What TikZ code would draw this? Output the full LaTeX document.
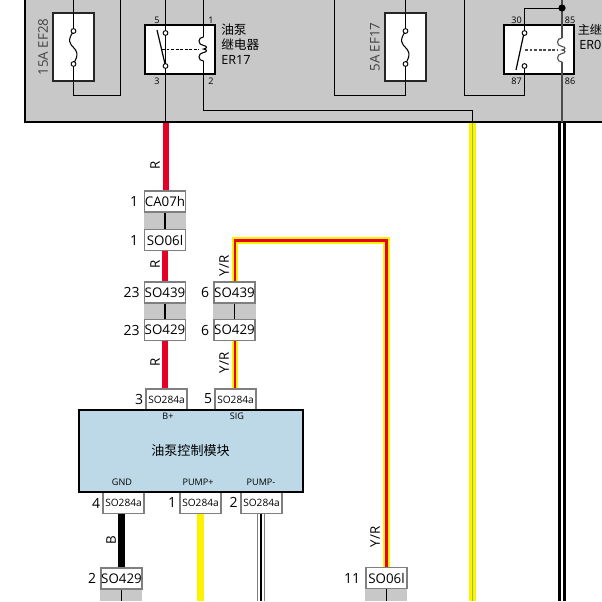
\documentclass[tikz,border=0pt]{standalone}
\usepackage{fontspec}
\setmainfont{Open Sans}
\newfontfamily\cjk{Noto Sans CJK SC}
\usetikzlibrary{backgrounds}
\definecolor{panelgray}{HTML}{C8C8C8}
\definecolor{modblue}{HTML}{BDD9E8}
\definecolor{boxedge}{HTML}{7F7F7F}
\definecolor{wirered}{HTML}{E60026}
\definecolor{wireyellow}{HTML}{FFF200}
\definecolor{wiregreen}{HTML}{8CC63F}
\tikzset{
  thin wire/.style={line width=.8pt,black},
  conn/.style={draw=boxedge,line width=1.1pt,fill=white,minimum width=30.5pt,minimum height=15.5pt,inner sep=0pt,font=\fontsize{10}{10}\selectfont},
  connsm/.style={conn,font=\fontsize{7.6}{8}\selectfont},
  num/.style={anchor=east,inner sep=0pt,font=\fontsize{10.5}{10}\selectfont},
  pin/.style={inner sep=0pt,font=\fontsize{6.8}{7}\selectfont},
  modpin/.style={inner sep=0pt,font=\fontsize{6.8}{7}\selectfont},
  wirename/.style={rotate=90,inner sep=0pt,font=\fontsize{10}{10}\selectfont},
  fusename/.style={rotate=90,inner sep=0pt,text=black!75,font=\fontsize{10}{10}\selectfont},
  relayname/.style={anchor=west,inner sep=0pt,font=\fontsize{9.5}{10}\selectfont},
  link/.style={fill=panelgray},
  wire R/.style={wirered,line width=4.5pt},
  wire B/.style={black,line width=5pt},
  wire Y/.style={wireyellow,line width=5pt},
  wire YR/.style={draw=wireyellow,double=wirered,line width=1.8pt,double distance=1.6pt},
  wire YG/.style={draw=wireyellow,double=wiregreen,line width=2pt,double distance=1pt},
  wire BW/.style={draw=black,double=white,line width=2.1pt,double distance=1.1pt},
  wire WE/.style={boxedge,line width=5.6pt},
  wire WI/.style={draw=white,double=black,line width=1.5pt,double distance=1.6pt},
  pinball/.style={circle,draw=black,fill=white,line width=.7pt,minimum size=3.6pt,inner sep=0pt},
  relaycoil/.pic={
    \draw[line width=.8pt] (0,12) .. controls (-6,12) and (-6,4) .. (0,3.5)
      .. controls (4,3) and (4,.5) .. (0,0) .. controls (4,-.5) and (4,-3) .. (0,-3.5)
      .. controls (-6,-4) and (-6,-12) .. (0,-12);
  },
  fuselink/.pic={
    \draw[line width=.8pt] (0,16) .. controls (-7,7) and (-3,3) .. (0,0)
      .. controls (3,-3) and (6,-7) .. (0,-16);
  },
}
\begin{document}
\begin{tikzpicture}[x=.75pt,y=.75pt]
  \useasboundingbox (0,0) rectangle (602,-601);

  % fuse box panel
  \draw[fill=panelgray,line width=1.5pt] (25,6) rectangle (612,-122);

  \draw[thin wire] (120.5,6) -- (120.5,-95.5) -- (73.5,-95.5) -- (73.5,-81);
  \draw[thin wire] (334.5,6) -- (334.5,-95.5) -- (405.5,-95.5) -- (405.5,-81);
  \draw[thin wire] (464.5,6) -- (464.5,-95.5) -- (524.5,-95.5) -- (524.5,-74);
  \draw[thin wire] (73.5,6) -- (73.5,-13) (405.5,6) -- (405.5,-13);

  % fuses
  \draw[line width=1.5pt,draw=black!85,fill=white] (53,-13) rectangle (94,-81);
  \draw[line width=1.5pt,draw=black!85,fill=white] (384.5,-13) rectangle (425.5,-81);
  \draw[thin wire] (73.5,-13) -- (73.5,-31) (73.5,-64) -- (73.5,-81);
  \draw[thin wire] (405.5,-13) -- (405.5,-31) (405.5,-64) -- (405.5,-81);
  \pic at (73.5,-47.5) {fuselink};
  \pic at (405.5,-47.5) {fuselink};
  \node[pinball] (fuseAt) at (73.5,-31) {};
  \node[pinball] (fuseAb) at (73.5,-64) {};
  \node[pinball] (fuseBt) at (405.5,-31) {};
  \node[pinball] (fuseBb) at (405.5,-64) {};
  \node[fusename] (fuseAname) at (43,-47) {15A EF28};
  \node[fusename] (fuseBname) at (375,-47) {5A EF17};

  % relay ER17
  \draw[line width=1.5pt,fill=white] (144.5,-25) rectangle (215,-74);
  \draw[thin wire] (165.5,6) -- (165.5,-122);
  \draw[thin wire] (203.5,6) -- (203.5,-37) (203.5,-61) -- (203.5,-110.5) -- (472.5,-110.5) -- (472.5,-122);
  \pic at (203.5,-49) {relaycoil};
  \draw[line width=.9pt] (157,-30) -- (165.5,-66);
  \draw[line width=.8pt,dashed,dash pattern=on 2.2pt off 1.2pt] (162,-49.5) -- (199,-49.5);
  \node[pinball] (relayAt) at (165.5,-33) {};
  \node[pinball] (relayAb) at (165.5,-66) {};
  \node[pin] (pinAa) at (157,-20) {5};
  \node[pin] (pinAb) at (211,-20) {1};
  \node[pin] (pinAc) at (157,-81.5) {3};
  \node[pin] (pinAd) at (211,-81.5) {2};
  \node[relayname] (nameAa) at (221,-29.5) {\cjk 油泵};
  \node[relayname] (nameAb) at (221,-44.5) {\cjk 继电器};
  \node[relayname] (nameAc) at (221,-59.5) {ER17};

  % main relay
  \draw[line width=1.5pt,fill=white] (503.5,-25) rectangle (574,-74);
  \draw[line width=.85pt,black!70] (562,6) -- (562,-38) (562,-62) -- (562,-122);
  \draw[thin wire] (524.5,-33) -- (524.5,-8.5) -- (562,-8.5);
  \draw[thin wire] (524.5,-66) -- (524.5,-74);
  \pic[black!70] at (562,-50) {relaycoil};
  \draw[line width=.9pt] (516,-70) -- (524,-33);
  \draw[line width=.8pt,dashed,dash pattern=on 2.2pt off 1.2pt,black!70] (525,-50) -- (558,-50);
  \node[pinball] (relayBt) at (524.5,-33) {};
  \node[pinball] (relayBb) at (524.5,-66) {};
  \fill (562,-8) circle (2.7pt);
  \node[pin] (pinBa) at (516.5,-20) {30};
  \node[pin] (pinBb) at (570,-20) {85};
  \node[pin] (pinBc) at (516.5,-81.5) {87};
  \node[pin] (pinBd) at (570,-81.5) {86};
  \node[relayname,font=\fontsize{9.1}{10}\selectfont] (nameBa) at (577.5,-29.5) {\cjk 主继};
  \node[relayname] (nameBb) at (579,-44.5) {ER0};

  % wire ends
  \coordinate (panelR) at (165.5,-122);
  \coordinate (panelY) at (472.5,-122);
  \coordinate (panelB) at (562,-122);
  \coordinate (endY) at (472.5,-601);
  \coordinate (endB) at (562,-601);
  \coordinate (endP) at (200.5,-601);
  \coordinate (endM) at (261,-601);
  \coordinate (endGa) at (101,-601);
  \coordinate (endGb) at (142,-601);
  \coordinate (endHa) at (366,-601);
  \coordinate (endHb) at (407,-601);
  \coordinate (cornerA) at (235,-240.5);
  \coordinate (cornerB) at (386.5,-240.5);

  % connectors
  \node[conn] (caA) at (165,-201.5) {CA07h};
  \node[conn] (soA) at (165,-240) {SO06l};
  \node[conn] (soB) at (165,-292.5) {SO439};
  \node[conn] (soC) at (165,-330) {SO429};
  \node[conn] (soD) at (234.5,-292.5) {SO439};
  \node[conn] (soE) at (234.5,-330) {SO429};
  \node[connsm] (topA) at (166.5,-399.5) {SO284a};
  \node[connsm] (topB) at (235.5,-399.5) {SO284a};
  \node[connsm] (botA) at (123.5,-503) {SO284a};
  \node[connsm] (botB) at (200.5,-503) {SO284a};
  \node[connsm] (botC) at (261.5,-503) {SO284a};
  \node[conn] (soG) at (121.5,-578.5) {SO429};
  \node[conn] (soH) at (386.5,-578) {SO06l};

  \node[num] (nA) at (138.5,-201.5) {1};
  \node[num] (nB) at (138.5,-240) {1};
  \node[num] (nC) at (140,-292.5) {23};
  \node[num] (nD) at (140,-330) {23};
  \node[num] (nE) at (209.5,-292.5) {6};
  \node[num] (nF) at (209.5,-330) {6};
  \node[num] (nG) at (143.5,-399) {3};
  \node[num] (nH) at (212.5,-399) {5};
  \node[num] (nI) at (100.5,-503) {4};
  \node[num] (nJ) at (176.5,-502) {1};
  \node[num] (nK) at (238,-502) {2};
  \node[num] (nL) at (96.5,-578) {2};
  \node[num] (nM) at (360.5,-578) {11};

  % control module
  \node[draw,line width=1.5pt,fill=modblue,minimum width=168pt,minimum height=61.5pt,inner sep=0pt,font=\cjk\fontsize{9.8}{10}\selectfont] (pumpmod) at (190.5,-451) {油泵控制模块};
  \node[modpin] (pinbat) at (168,-416.5) {B+};
  \node[modpin] (pinsig) at (237,-416.5) {SIG};
  \node[modpin] (pingnd) at (122,-482) {GND};
  \node[modpin] (pinpp) at (198,-482) {PUMP+};
  \node[modpin] (pinpm) at (261,-482) {PUMP-};

  \node[wirename] (labA) at (155,-165) {R};
  \node[wirename] (labB) at (155,-264) {R};
  \node[wirename] (labC) at (155,-362) {R};
  \node[wirename] (labD) at (224,-266) {Y/R};
  \node[wirename] (labE) at (224,-363) {Y/R};
  \node[wirename] (labF) at (375,-537) {Y/R};
  \node[wirename] (labG) at (111,-540) {B};

  % wires and links under the nodes
  \begin{scope}[on background layer]
    \fill[link] (caA.south west) rectangle (soA.north east);
    \fill[link] (soB.south west) rectangle (soC.north east);
    \fill[link] (soD.south west) rectangle (soE.north east);
    \fill[link] (soG.south west) rectangle (endGb);
    \fill[link] (soH.south west) rectangle (endHb);
    \draw[thin wire] (caA) -- (soA);
    \draw[thin wire] (soB) -- (soC);
    \draw[thin wire] (soD) -- (soE);
    \draw[thin wire] (soG.south) -- (soG.south |- endGb);
    \draw[thin wire] (soH.south) -- (soH.south |- endHb);

    \draw[wire R] (panelR) -- (panelR |- caA.north);
    \draw[wire R] (soA.south) -- (soB.north);
    \draw[wire R] (soC.south) -- (soC.south |- topA.north);
    \draw[wire YR] (topB.north -| cornerA) -- (soE.south -| cornerA);
    \draw[wire YR] (soD.north -| cornerA) -- (cornerA) -- (cornerB) -- (cornerB |- soH.north);
    \draw[wire YG] (panelY) -- (endY);
    \draw[wire BW] (panelB) -- (endB);
    \draw[wire B] (botA.south -| soG) -- (soG.north);
    \draw[wire Y] (botB.south) -- (endP);
    \draw[wire WE] (botC.south -| endM) -- (endM);
    \draw[wire WI] (botC.south -| endM) -- (endM);
  \end{scope}
\end{tikzpicture}
\end{document}
